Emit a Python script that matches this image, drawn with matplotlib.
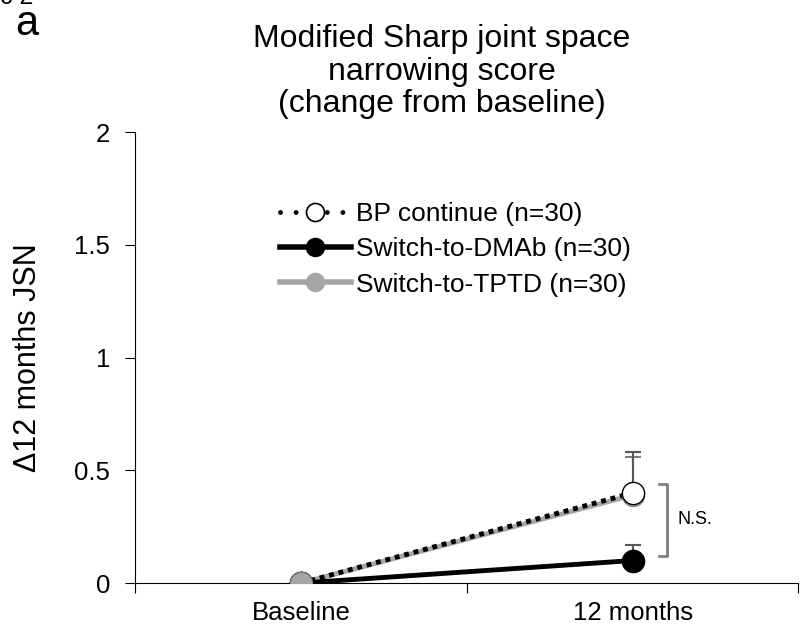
import matplotlib.pyplot as plt
from matplotlib.lines import Line2D
import numpy as np

plt.rcParams['font.family'] = ['Liberation Sans', 'DejaVu Sans']

timepoints = ['Baseline', '12 months']
bp_continue = [0.0, 0.40]
bp_err = [0.0, 0.18]
switch_dmab = [0.0, 0.10]
dmab_err = [0.0, 0.07]
switch_tptd = [0.0, 0.39]
tptd_err = [0.0, 0.17]
labels = ['BP continue (n=30)', 'Switch-to-DMAb (n=30)', 'Switch-to-TPTD (n=30)']

x = np.arange(len(timepoints))

fig = plt.figure(figsize=(8, 6.29), dpi=100)
ax = fig.add_axes([0.169, 0.073, 0.829, 0.717])

ms = 16
# lines
ax.plot(x, switch_tptd, color='#a6a6a6', lw=3.5, zorder=2)
ax.plot(x, bp_continue, color='black', lw=3.5, ls=(0, (1, 1)), zorder=3)
ax.plot(x, switch_dmab, color='black', lw=3.5, zorder=3)

# error bars (upper only)
ax.errorbar(x[1:], switch_tptd[1:], yerr=[[0], tptd_err[1:]], fmt='none',
            ecolor='#7f7f7f', elinewidth=1.5, capsize=6, capthick=1.5, zorder=1)
ax.errorbar(x[1:], bp_continue[1:], yerr=[[0], bp_err[1:]], fmt='none',
            ecolor='#595959', elinewidth=1.5, capsize=6, capthick=1.5, zorder=1)
ax.errorbar(x[1:], switch_dmab[1:], yerr=[[0], dmab_err[1:]], fmt='none',
            ecolor='#595959', elinewidth=1.5, capsize=6, capthick=1.5, zorder=1)

# markers
ax.plot(x, switch_tptd, 'o', ms=ms, color='#a6a6a6', mec='#808080', mew=0.8, zorder=4)
ax.plot(x, bp_continue, 'o', ms=ms, mfc='white', mec='black', mew=1, zorder=5)
ax.plot(x, switch_dmab, 'o', ms=ms, mfc='black', mec='black', zorder=5)
ax.plot(x[:1], switch_tptd[:1], 'o', ms=ms, color='#a6a6a6', mec='#808080', mew=0.8, zorder=6)

# N.S. bracket
bx = x[1] + 0.105
top = bp_continue[1] + 0.04
bot = switch_dmab[1] + 0.02
ax.plot([bx - 0.025, bx, bx, bx - 0.025], [top, top, bot, bot], color='#7f7f7f', lw=2)
ax.text(bx + 0.03, (top + bot) / 2, 'N.S.', fontsize=13, va='center', ha='left')

ax.set_xlim(-0.5, 1.5)
ax.set_ylim(0, 2)
ax.set_xticks([-0.5, 0.5, 1.5])
ax.set_xticklabels([])
ax.set_xticks(x, minor=True)
ax.set_xticklabels(timepoints, minor=True)
ax.tick_params(axis='x', which='minor', length=0, labelsize=18.5, pad=13)
ax.tick_params(axis='x', which='major', length=7, direction='out')
ax.set_yticks([0, 0.5, 1, 1.5, 2])
ax.set_yticklabels(['0', '0.5', '1', '1.5', '2'])
ax.tick_params(axis='y', length=7, direction='out', labelsize=18.5, pad=11)
for s in ['top', 'right']:
    ax.spines[s].set_visible(False)
fig.text(0.035, 0.432, 'Δ12 months JSN', fontsize=22, rotation=90, ha='center', va='center')

handles = [
    Line2D([], [], color='black', lw=3.5, ls=(0, (0.01, 3.2)), dash_capstyle='round',
           marker='o', ms=13, mfc='white', mec='black', mew=1.2),
    Line2D([], [], color='black', lw=4, marker='o', ms=13, mfc='black'),
    Line2D([], [], color='#a6a6a6', lw=4, marker='o', ms=13, mfc='#a6a6a6'),
]
leg = ax.legend(handles, labels, loc='upper left', bbox_to_anchor=(0.218, 0.845), frameon=False,
                fontsize=19, handlelength=2.7, handletextpad=0.2, labelspacing=0.43,
                borderaxespad=0, borderpad=0)

fig.text(0.5525, 0.886, 'Modified Sharp joint space\nnarrowing score\n(change from baseline)',
         ha='center', va='center', fontsize=23, linespacing=1.1)
fig.text(0.033, 1 - 35 / 629, 'a', fontsize=30, ha='center', va='baseline')
fig.text(0.0, 1 - 4 / 629, 'c 2', fontsize=18, ha='left', va='baseline')

fig.savefig('out.png', dpi=100)
